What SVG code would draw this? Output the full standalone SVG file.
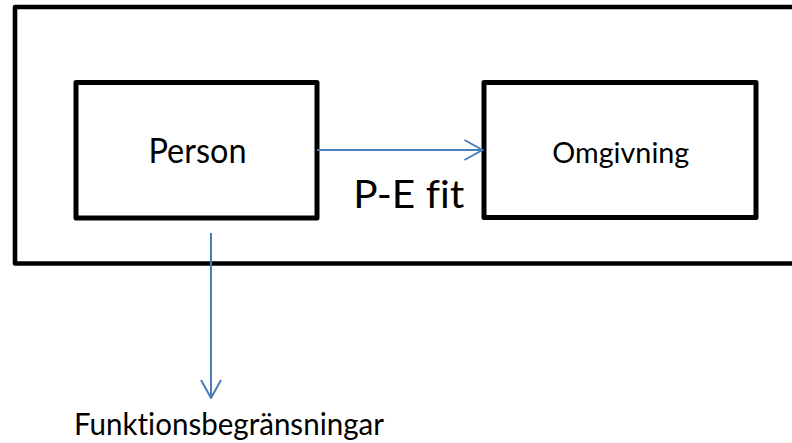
<svg xmlns="http://www.w3.org/2000/svg" width="792" height="443" viewBox="0 0 792 443">
<style>
.box{fill:none;stroke:#000;stroke-width:5;stroke-linejoin:round}
.frame{fill:none;stroke:#000;stroke-width:4.6;stroke-linejoin:round}
.lbl{font-family:Lato,"Liberation Sans",Arial,sans-serif;fill:#000;font-variant-ligatures:none;font-feature-settings:"liga" 0,"clig" 0}
.con{fill:none;stroke:#4A7EBB;stroke-width:2}
</style>
<defs>
<marker id="arr" viewBox="0 0 20 22" refX="19" refY="11" markerWidth="20" markerHeight="22" markerUnits="userSpaceOnUse" orient="auto">
<path d="M1,1 L19,11 L1,21" fill="none" stroke="#4A7EBB" stroke-width="2"/>
</marker>
</defs>
<g id="frame">
<rect class="frame" x="15" y="7" width="800" height="256.5"/>
</g>
<g id="person">
<rect class="box" x="76" y="82.5" width="241" height="135.5"/>
<text class="lbl" x="148.5" y="163.3" font-size="34.5" textLength="98" lengthAdjust="spacingAndGlyphs">Person</text>
</g>
<g id="omgivning">
<rect class="box" x="484" y="82.5" width="272" height="135"/>
<text class="lbl" x="552.3" y="163.3" font-size="29" textLength="137" lengthAdjust="spacingAndGlyphs">Omgivning</text>
</g>
<g id="pefit">
<text class="lbl" x="353.3" y="207.5" font-size="39.5" textLength="111" lengthAdjust="spacingAndGlyphs">P-E fit</text>
</g>
<g id="funktionsbegransningar">
<text class="lbl" x="74" y="435" font-size="31" textLength="310" lengthAdjust="spacingAndGlyphs">Funktionsbegränsningar</text>
</g>
<g id="connectors">
<line class="con" x1="317" y1="150" x2="482.5" y2="150" marker-end="url(#arr)"/>
<line class="con" x1="211" y1="233" x2="211" y2="398" marker-end="url(#arr)"/>
</g>
</svg>
